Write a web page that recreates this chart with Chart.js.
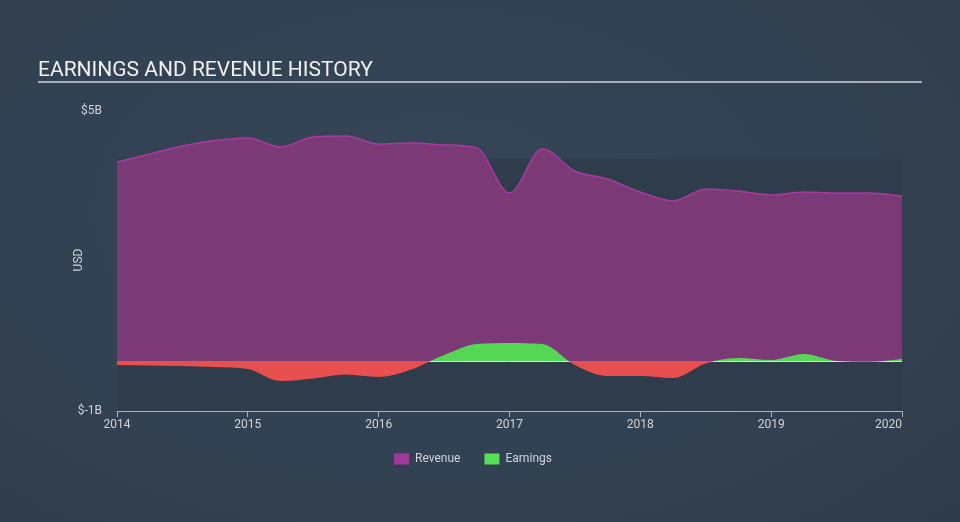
<!DOCTYPE html>
<html>
<head>
<meta charset="utf-8">
<script src="https://cdn.jsdelivr.net/npm/chart.js@4.4.1/dist/chart.umd.min.js"></script>
<style>
  html,body{margin:0;padding:0;}
  body{width:960px;height:522px;background:radial-gradient(ellipse at 45% 40%, #354657 0%, #334252 55%, #2f3b49 100%);overflow:hidden;}
  #wrap{position:relative;width:960px;height:522px;}
</style>
</head>
<body>
<div id="wrap"><canvas id="c" width="960" height="522"></canvas></div>
<script>
const title = "EARNINGS AND REVENUE HISTORY";
const periods = [2014.0,2014.25,2014.5,2014.75,2015.0,2015.25,2015.5,2015.75,2016.0,2016.25,2016.5,2016.75,2017.0,2017.25,2017.5,2017.75,2018.0,2018.25,2018.5,2018.75,2019.0,2019.25,2019.5,2019.75,2020.0];
const revenue  = [3.98,4.14,4.30,4.41,4.46,4.28,4.48,4.50,4.34,4.36,4.32,4.26,3.36,4.24,3.80,3.64,3.38,3.20,3.44,3.40,3.32,3.38,3.36,3.36,3.30];
const earnings = [-0.08,-0.09,-0.10,-0.12,-0.16,-0.40,-0.35,-0.27,-0.32,-0.17,0.12,0.34,0.36,0.34,-0.08,-0.30,-0.30,-0.34,-0.05,0.06,0.02,0.14,0.00,-0.02,0.04];
const yTicks = [-1,0,5];
const xTicks = [2014,2015,2016,2017,2018,2019,2020];

const revPts = periods.map((p,i)=>({x:p,y:revenue[i]}));
const earnPts = periods.map((p,i)=>({x:p,y:earnings[i]}));

const bgPlugin = {
  id:'bgPlugin',
  beforeDraw(chart){
    const {ctx, chartArea:a} = chart;
    ctx.save();
    ctx.fillStyle = '#2e3c4b';
    ctx.fillRect(a.left, a.top+48, a.right-a.left, a.bottom-(a.top+48));
    ctx.fillStyle = '#eef0f2';
    ctx.font = '400 21px Roboto';
    ctx.textBaseline = 'alphabetic';
    ctx.textAlign = 'left';
    ctx.fillText(title, 38, 76);
    ctx.strokeStyle = '#a9aeb4';
    ctx.lineWidth = 2;
    ctx.beginPath(); ctx.moveTo(38, 82); ctx.lineTo(922, 82); ctx.stroke();
    ctx.translate(79, 260);
    ctx.rotate(-Math.PI/2);
    ctx.fillStyle = '#d0d4d8';
    ctx.font = '12px Roboto';
    ctx.textAlign = 'center';
    ctx.textBaseline = 'middle';
    ctx.fillText('USD', 0, 0);
    ctx.restore();
  }
};

new Chart(document.getElementById('c'), {
  type:'line',
  data:{
    datasets:[
      {label:'Revenue', data:revPts, borderColor:'#a8399f', backgroundColor:'#7b3a76',
       fill:'origin', borderWidth:1.5, pointRadius:0, cubicInterpolationMode:'monotone', order:2},
      {label:'Earnings', data:earnPts, borderColor:'rgba(0,0,0,0)', backgroundColor:'#55d655',
       fill:{target:'origin', above:'#55d655', below:'#e85050'}, borderWidth:0, pointRadius:0,
       cubicInterpolationMode:'monotone', order:1}
    ]
  },
  options:{
    responsive:false, animation:false,
    layout:{padding:{top:111, right:14, bottom:47, left:0}},
    plugins:{
      legend:{position:'bottom', labels:{
        color:'#d0d4d8', font:{family:'Roboto', size:12}, boxWidth:15, boxHeight:11, padding:24,
        generateLabels(chart){
          return [
            {text:'Revenue', fillStyle:'#a0399b', strokeStyle:'#a0399b', lineWidth:0, fontColor:'#d0d4d8', datasetIndex:0},
            {text:'Earnings', fillStyle:'#55e055', strokeStyle:'#55e055', lineWidth:0, fontColor:'#d0d4d8', datasetIndex:1}
          ];
        }
      }},
      tooltip:{enabled:false}
    },
    scales:{
      x:{type:'linear', min:2014, max:2020,
        afterBuildTicks(s){ s.ticks = xTicks.map(v=>({value:v})); },
        afterFit(s){ s.height = 18; },
        ticks:{color:'#d0d4d8', font:{family:'Roboto', size:12}, maxRotation:0, padding:1,
          callback(v){ return v===2020 ? '2020\u2007\u2007\u2007\u2007' : String(v); }},
        grid:{display:true, drawOnChartArea:false, color:'#aab2bb', tickLength:6, tickColor:'#aab2bb'},
        border:{display:true, color:'#aab2bb', width:1}
      },
      y:{min:-1, max:5,
        afterBuildTicks(s){ s.ticks = yTicks.map(v=>({value:v})); },
        afterFit(s){ s.width = 117; },
        ticks:{color:'#d0d4d8', font:{family:'Roboto', size:12}, padding:15,
          callback(v){ return v===0 ? '' : '$' + v + 'B'; }},
        grid:{drawTicks:false, color(c){ return c.tick && c.tick.value===0 ? '#dfe3e6' : 'rgba(0,0,0,0)'; }, lineWidth:1},
        border:{display:false}
      },
      yRight:{position:'right', min:-1, max:5, display:true,
        afterFit(s){ s.width = 44; },
        ticks:{display:false}, grid:{display:false}, border:{display:false}
      }
    }
  },
  plugins:[bgPlugin]
});
</script>
</body>
</html>
